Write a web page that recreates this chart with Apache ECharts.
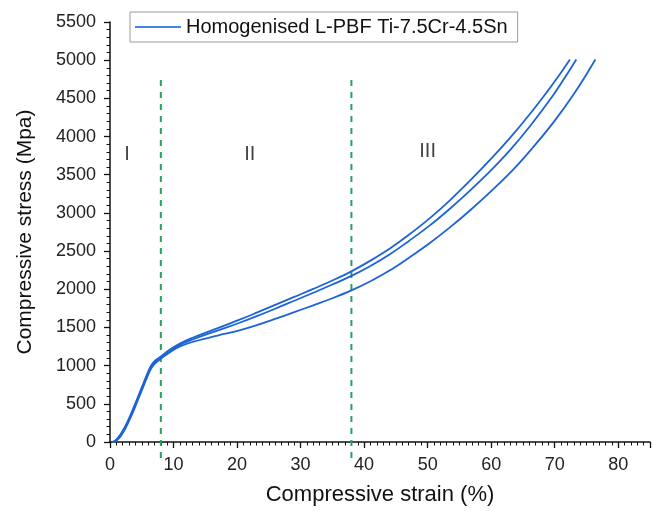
<!DOCTYPE html>
<html>
<head>
<meta charset="utf-8">
<script src="https://cdn.jsdelivr.net/npm/echarts@6/dist/echarts.min.js"></script>
<style>
html,body{margin:0;padding:0;background:#fff;}
#c{width:653px;height:511px;}
</style>
</head>
<body>
<div id="c"></div>
<script>
const seriesName = 'Homogenised L-PBF Ti-7.5Cr-4.5Sn';
const curveA = [[0.3,0],[0.9,25],[1.5,80],[2.3,190],[3.2,350],[4.1,530],[5.0,715],[5.7,860],[6.3,975],[6.9,1050],[7.9,1115],[9.5,1215],[11,1290],[13,1365],[15.5,1445],[18,1525],[20.5,1605],[23,1690],[26,1795],[29,1900],[32,2005],[35,2115],[38,2235],[41,2375],[44,2530],[47,2710],[50.4,2935],[53.5,3165],[56.7,3425],[60,3710],[63,3985],[66,4285],[68.7,4575],[70.5,4780],[72.4,5010]];
const curveB = [[0.4,0],[1.0,25],[1.6,80],[2.4,190],[3.3,350],[4.2,530],[5.1,715],[5.8,860],[6.4,970],[7.0,1040],[7.9,1105],[9.5,1200],[11,1272],[13,1342],[15.5,1418],[18,1490],[20.5,1565],[23,1645],[26,1745],[29,1850],[32,1955],[35,2062],[38,2175],[41,2305],[44,2455],[47,2630],[50.4,2840],[53.5,3055],[56.7,3295],[60,3560],[63,3825],[66.1,4135],[69.7,4535],[71.5,4760],[73.4,5010]];
const curveC = [[0.5,0],[1.1,25],[1.7,80],[2.5,190],[3.4,350],[4.3,530],[5.2,715],[5.9,860],[6.5,965],[7.1,1030],[8.0,1090],[9.5,1180],[11,1250],[13,1310],[15.5,1365],[18,1415],[20.5,1465],[23,1527],[26,1612],[29,1700],[32,1790],[35,1882],[38,1985],[41,2105],[44,2245],[47,2410],[50.4,2610],[53.5,2810],[56.7,3035],[60,3285],[63.5,3570],[66.5,3850],[69.8,4185],[73.2,4580],[76.4,5010]];
const dividerX = [8, 38];
const dividerRange = [-210, 4740];
const regionLabels = [['I',2.7,3760],['II',22,3760],['III',50,3800]];
const xTicks = [0,10,20,30,40,50,60,70,80];
const yTicks = [0,500,1000,1500,2000,2500,3000,3500,4000,4500,5000,5500];

const font = 'Liberation Sans, Arial, sans-serif';
const chart = echarts.init(document.getElementById('c'), null, {renderer:'canvas'});
const blue = '#1d63d8';
const green = '#27a060';

const curveSeries = [curveA, curveB, curveC].map(d => ({
  name: seriesName, type: 'line', data: d, showSymbol: false, smooth: 0.4,
  lineStyle: {color: blue, width: 1.8}, itemStyle: {color: blue}, z: 3
}));
const dividerSeries = dividerX.map(x => ({
  type: 'line', data: [[x, dividerRange[0]], [x, dividerRange[1]]], showSymbol: false, clip: false,
  lineStyle: {color: green, width: 2, type: [6, 6]}, silent: true, z: 2
}));
const labelSeries = {
  type: 'scatter', symbolSize: 0, data: regionLabels.map(r => ({value: [r[1], r[2]], name: r[0]})),
  label: {show: true, position: 'inside', formatter: p => p.name, color: '#111', fontSize: 20, fontFamily: font},
  silent: true
};

chart.setOption({
  backgroundColor: '#ffffff',
  animation: false,
  grid: {left: 110, top: 22, right: 3, bottom: 69, containLabel: false},
  legend: {
    data: [{name: seriesName, icon: 'rect'}], left: 130, top: 12, itemWidth: 46, itemHeight: 2,
    padding: [5, 10, 5, 5], borderColor: '#999', borderWidth: 1, backgroundColor: '#fff',
    textStyle: {fontSize: 20, fontFamily: font, color: '#111'}, itemStyle: {color: '#3f86e4'}
  },
  xAxis: {
    type: 'value', min: 0, max: 85, interval: 10,
    name: 'Compressive strain (%)', nameLocation: 'middle', nameGap: 42,
    nameTextStyle: {fontSize: 22, fontFamily: font, color: '#111'},
    axisLine: {show: true, onZero: false, lineStyle: {color: '#111', width: 1.5}},
    axisTick: {show: true, inside: false, length: 6, lineStyle: {color: '#111', width: 1.3}},
    minorTick: {show: true, splitNumber: 10, length: 3.5, lineStyle: {color: '#111', width: 1}},
    axisLabel: {fontSize: 18, fontFamily: font, color: '#222', margin: 14,
      formatter: v => xTicks.includes(v) ? String(v) : ''},
    splitLine: {show: false}
  },
  yAxis: {
    type: 'value', min: 0, max: 5500, interval: 500,
    name: 'Compressive stress (Mpa)', nameLocation: 'middle', nameGap: 74,
    nameTextStyle: {fontSize: 21, fontFamily: font, color: '#111'},
    axisLine: {show: true, onZero: false, lineStyle: {color: '#111', width: 1.5}},
    axisTick: {show: true, inside: false, length: 6, lineStyle: {color: '#111', width: 1.3}},
    minorTick: {show: true, splitNumber: 5, length: 3.5, lineStyle: {color: '#111', width: 1}},
    axisLabel: {fontSize: 18, fontFamily: font, color: '#222', margin: 14,
      formatter: v => yTicks.includes(v) ? String(v) : ''},
    splitLine: {show: false}
  },
  series: [...curveSeries, ...dividerSeries, labelSeries]
});
</script>
</body>
</html>
